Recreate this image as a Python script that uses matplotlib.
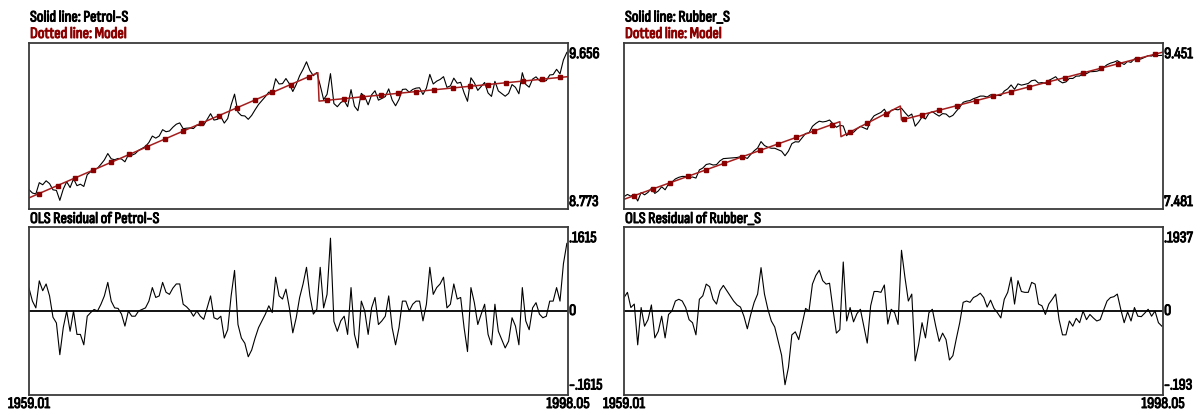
import numpy as np
import matplotlib
matplotlib.use("Agg")
import matplotlib.pyplot as plt
import matplotlib.patheffects as pe

plt.rcParams['font.family'] = ['Sofia Sans Condensed', 'DejaVu Sans']

# months since 1959.01, sampled every 3 months
months = np.arange(0, 472, 3)
date_first = "1959.01"
date_last = "1998.05"

# ---- Petrol-S ----
petrol = [8.876, 8.858, 8.853, 8.913, 8.902, 8.923, 8.908, 8.875, 8.872, 8.819,
          8.879, 8.918, 8.887, 8.934, 8.897, 8.905, 8.893, 8.956, 8.971, 8.985,
          8.990, 9.011, 9.034, 9.068, 9.040, 9.035, 9.042, 9.039, 9.024, 9.061,
          9.059, 9.067, 9.085, 9.095, 9.106, 9.127, 9.161, 9.150, 9.161, 9.195,
          9.184, 9.188, 9.208, 9.224, 9.231, 9.200, 9.203, 9.204, 9.201, 9.219,
          9.217, 9.219, 9.249, 9.280, 9.246, 9.250, 9.264, 9.230, 9.254, 9.327,
          9.384, 9.288, 9.270, 9.268, 9.250, 9.271, 9.301, 9.329, 9.350, 9.371,
          9.395, 9.390, 9.466, 9.438, 9.440, 9.467, 9.439, 9.398, 9.435, 9.482,
          9.516, 9.556, 9.509, 9.482, 9.499, 9.431, 9.355, 9.383, 9.493, 9.334,
          9.317, 9.339, 9.350, 9.317, 9.408, 9.320, 9.296, 9.388, 9.371, 9.327,
          9.380, 9.402, 9.352, 9.361, 9.371, 9.412, 9.353, 9.322, 9.356, 9.409,
          9.411, 9.394, 9.409, 9.416, 9.418, 9.382, 9.416, 9.489, 9.438, 9.453,
          9.462, 9.477, 9.420, 9.428, 9.469, 9.442, 9.447, 9.391, 9.346, 9.471,
          9.444, 9.404, 9.425, 9.446, 9.390, 9.372, 9.452, 9.401, 9.387, 9.373,
          9.388, 9.435, 9.420, 9.386, 9.498, 9.436, 9.421, 9.464, 9.476, 9.456,
          9.451, 9.456, 9.486, 9.488, 9.516, 9.492, 9.566, 9.606]
petrol_resid = [0.044, 0.019, 0.006, 0.058, 0.039, 0.052, 0.029, -0.012, -0.023, -0.084,
                -0.032, 0.000, -0.039, 0.000, -0.045, -0.045, -0.065, -0.010, -0.003, 0.003,
                0.000, 0.013, 0.029, 0.055, 0.019, 0.006, 0.005, -0.006, -0.029, 0.000,
                -0.010, -0.010, 0.000, 0.003, 0.006, 0.019, 0.045, 0.026, 0.029, 0.055,
                0.036, 0.032, 0.044, 0.052, 0.052, 0.013, 0.008, 0.001, -0.010, 0.000,
                -0.010, -0.016, 0.006, 0.029, -0.013, -0.016, -0.010, -0.052, -0.036, 0.029,
                0.078, -0.026, -0.052, -0.062, -0.088, -0.075, -0.052, -0.032, -0.019, -0.006,
                0.010, -0.003, 0.065, 0.029, 0.023, 0.042, 0.006, -0.042, -0.013, 0.026,
                0.052, 0.084, 0.029, -0.006, 0.003, 0.084, 0.006, 0.032, 0.140, -0.020,
                -0.039, -0.019, -0.010, -0.045, 0.045, -0.045, -0.071, 0.019, 0.000, -0.045,
                0.006, 0.026, -0.026, -0.019, -0.010, 0.029, -0.032, -0.065, -0.032, 0.019,
                0.019, 0.000, 0.013, 0.019, 0.019, -0.019, 0.013, 0.084, 0.032, 0.045,
                0.052, 0.065, 0.006, 0.013, 0.052, 0.023, 0.026, -0.032, -0.078, 0.045,
                0.016, -0.026, -0.006, 0.013, -0.045, -0.065, 0.013, -0.039, -0.055, -0.071,
                -0.058, -0.013, -0.029, -0.065, 0.045, -0.019, -0.036, 0.006, 0.016, -0.006,
                -0.013, -0.010, 0.019, 0.019, 0.045, 0.019, 0.091, 0.130]
# model (trend with one break): corner points and marker points
petrol_model_m = [0, 253, 254, 472]
petrol_model_v = [8.832, 9.498, 9.347, 9.477]
marker_m = [9, 25, 40, 56, 72, 88, 103, 119, 135, 151, 166, 182, 198, 213, 229,
            245, 261, 276, 292, 308, 323, 339, 355, 371, 386, 402, 418, 433, 449, 465]
petrol_marker_v = [8.855, 8.897, 8.937, 8.979, 9.021, 9.063, 9.103, 9.145, 9.187, 9.230,
                   9.269, 9.311, 9.353, 9.393, 9.435, 9.477, 9.351, 9.360, 9.369, 9.379,
                   9.388, 9.398, 9.407, 9.417, 9.426, 9.435, 9.445, 9.454, 9.464, 9.473]
petrol_range = (8.773, 9.656)
petrol_res_range = (-0.1615, 0.1615)

# ---- Rubber_S ----
rubber = [7.627, 7.654, 7.633, 7.656, 7.576, 7.677, 7.649, 7.678, 7.727, 7.666,
          7.695, 7.745, 7.709, 7.778, 7.801, 7.838, 7.857, 7.868, 7.867, 7.854,
          7.861, 7.848, 7.945, 7.967, 8.009, 8.018, 8.003, 8.007, 8.052, 8.079,
          8.082, 8.084, 8.087, 8.092, 8.102, 8.096, 8.081, 8.129, 8.172, 8.205,
          8.281, 8.234, 8.214, 8.202, 8.202, 8.184, 8.167, 8.113, 8.168, 8.257,
          8.279, 8.276, 8.326, 8.377, 8.385, 8.462, 8.497, 8.523, 8.514, 8.521,
          8.537, 8.492, 8.451, 8.474, 8.466, 8.351, 8.403, 8.391, 8.431, 8.462,
          8.444, 8.426, 8.533, 8.587, 8.608, 8.627, 8.665, 8.596, 8.651, 8.664,
          8.658, 8.677, 8.626, 8.581, 8.608, 8.464, 8.512, 8.573, 8.549, 8.617,
          8.636, 8.608, 8.583, 8.613, 8.608, 8.572, 8.592, 8.642, 8.689, 8.747,
          8.761, 8.768, 8.790, 8.804, 8.821, 8.821, 8.810, 8.836, 8.828, 8.829,
          8.827, 8.881, 8.907, 8.953, 8.901, 8.966, 8.951, 8.960, 8.971, 9.004,
          9.011, 8.975, 8.982, 8.972, 9.007, 9.028, 9.051, 9.003, 8.978, 8.989,
          9.031, 9.030, 9.058, 9.059, 9.096, 9.087, 9.110, 9.112, 9.116, 9.129,
          9.162, 9.193, 9.212, 9.224, 9.241, 9.217, 9.196, 9.232, 9.221, 9.263,
          9.253, 9.263, 9.281, 9.301, 9.296, 9.318, 9.302, 9.304]
rubber_resid = [0.031, 0.043, 0.008, 0.016, -0.078, 0.008, -0.035, -0.020, 0.014, -0.062,
                -0.047, -0.012, -0.062, -0.008, 0.000, 0.023, 0.027, 0.023, 0.008, -0.020,
                -0.027, -0.055, 0.027, 0.035, 0.062, 0.056, 0.027, 0.016, 0.047, 0.059,
                0.047, 0.035, 0.023, 0.014, 0.009, -0.012, -0.041, -0.008, 0.020, 0.039,
                0.100, 0.039, 0.004, -0.023, -0.037, -0.070, -0.102, -0.170, -0.130, -0.055,
                -0.048, -0.066, -0.030, 0.006, 0.000, 0.062, 0.082, 0.094, 0.070, 0.062,
                0.064, 0.004, -0.051, -0.043, 0.113, -0.023, 0.008, -0.025, -0.006, 0.004,
                -0.035, -0.074, 0.012, 0.045, 0.045, 0.043, 0.060, -0.030, 0.004, -0.004,
                -0.031, 0.140, 0.078, 0.023, 0.039, -0.115, -0.078, -0.027, -0.062, -0.004,
                0.004, -0.035, -0.070, -0.051, -0.066, -0.113, -0.103, -0.064, -0.027, 0.020,
                0.023, 0.020, 0.031, 0.035, 0.041, 0.031, 0.009, 0.025, 0.006, -0.004,
                -0.016, 0.027, 0.043, 0.078, 0.016, 0.070, 0.045, 0.043, 0.043, 0.066,
                0.062, 0.016, 0.012, -0.008, 0.016, 0.027, 0.039, -0.020, -0.055, -0.055,
                -0.023, -0.035, -0.017, -0.027, 0.000, -0.020, -0.008, -0.016, -0.023, -0.020,
                0.002, 0.023, 0.031, 0.033, 0.039, 0.004, -0.027, -0.002, -0.023, 0.008,
                -0.012, -0.013, -0.005, 0.004, -0.012, 0.000, -0.027, -0.035]
# model with two breaks
rubber_model_m = [0, 189, 190, 242, 243, 472]
rubber_model_v = [7.596, 8.517, 8.339, 8.703, 8.537, 9.343]
rubber_marker_v = [7.640, 7.718, 7.791, 7.869, 7.947, 8.025, 8.098, 8.176, 8.254, 8.332,
                   8.405, 8.483, 8.395, 8.500, 8.612, 8.544, 8.600, 8.653, 8.709, 8.766,
                   8.819, 8.875, 8.931, 8.988, 9.040, 9.097, 9.153, 9.206, 9.262, 9.318]
rubber_range = (7.481, 9.451)
rubber_res_range = (-0.1937, 0.1937)

top_labels = ["9.656", "8.773", "9.451", "7.481"]
res_labels = [".1615", "-.1615", ".1937", "-.193"]

W, H = 1202, 415
fig = plt.figure(figsize=(W / 100, H / 100), dpi=100)

RED = '#a51e1e'
DARKRED = '#8b0000'
FS = 11.5


def txt(x, y, s, color='black', tr=None, **kw):
    # slightly thickened text, like the bold screen font of the original
    t = fig.text(x, y, s, color=color, fontsize=FS, transform=tr or fig.transFigure, **kw)
    t.set_path_effects([pe.withStroke(linewidth=0.7, foreground=color)])
    return t


def box(ax):
    ax.set_xticks([])
    ax.set_yticks([])
    ax.set_xlim(0, 472)
    for s in ax.spines.values():
        s.set_color('#3a3a3a')
        s.set_linewidth(1.3)


def column(x0, name, series, resid, mod_m, mod_v, mark_v, yr, rr, tl, rl):
    w = 539 / W
    ax1 = fig.add_axes([x0 / W, 1 - 209 / H, w, 166 / H])
    ax1.plot(months, series, color='black', lw=0.8)
    ax1.plot(mod_m, mod_v, color=RED, lw=1.1)
    ax1.plot(marker_m, mark_v, ls='none', marker='s', ms=3, color=DARKRED)
    ax1.set_ylim(*yr)
    box(ax1)
    txt(1.002, 0.975, tl[0], tr=ax1.transAxes, ha='left', va='top')
    txt(1.002, 0.0, tl[1], tr=ax1.transAxes, ha='left', va='bottom')

    ax2 = fig.add_axes([x0 / W, 1 - 395 / H, w, 168 / H])
    ax2.plot(months, resid, color='black', lw=0.8)
    ax2.axhline(0, color='black', lw=1.3)
    ax2.set_ylim(*rr)
    box(ax2)
    txt(1.002, 0.975, rl[0], tr=ax2.transAxes, ha='left', va='top')
    txt(1.002, 0.5, '0', tr=ax2.transAxes, ha='left', va='center')
    txt(1.002, 0.015, rl[1], tr=ax2.transAxes, ha='left', va='bottom')

    # titles and dates
    txt((x0 + 1) / W, 1 - 17.5 / H, "Solid line: " + name, ha='left', va='center')
    txt((x0 + 1) / W, 1 - 34 / H, "Dotted line: Model", color=DARKRED, ha='left', va='center')
    txt((x0 + 1) / W, 1 - 219 / H, "OLS Residual of " + name, ha='left', va='center')
    txt(x0 / W, 1 - 397 / H, date_first, ha='center', va='top')
    txt((x0 + 539) / W, 1 - 397 / H, date_last, ha='center', va='top')


column(29, "Petrol-S", petrol, petrol_resid, petrol_model_m, petrol_model_v,
       petrol_marker_v, petrol_range, petrol_res_range, top_labels[:2], res_labels[:2])
column(624, "Rubber_S", rubber, rubber_resid, rubber_model_m, rubber_model_v,
       rubber_marker_v, rubber_range, rubber_res_range, top_labels[2:], res_labels[2:])

fig.savefig('out.png', dpi=100)
